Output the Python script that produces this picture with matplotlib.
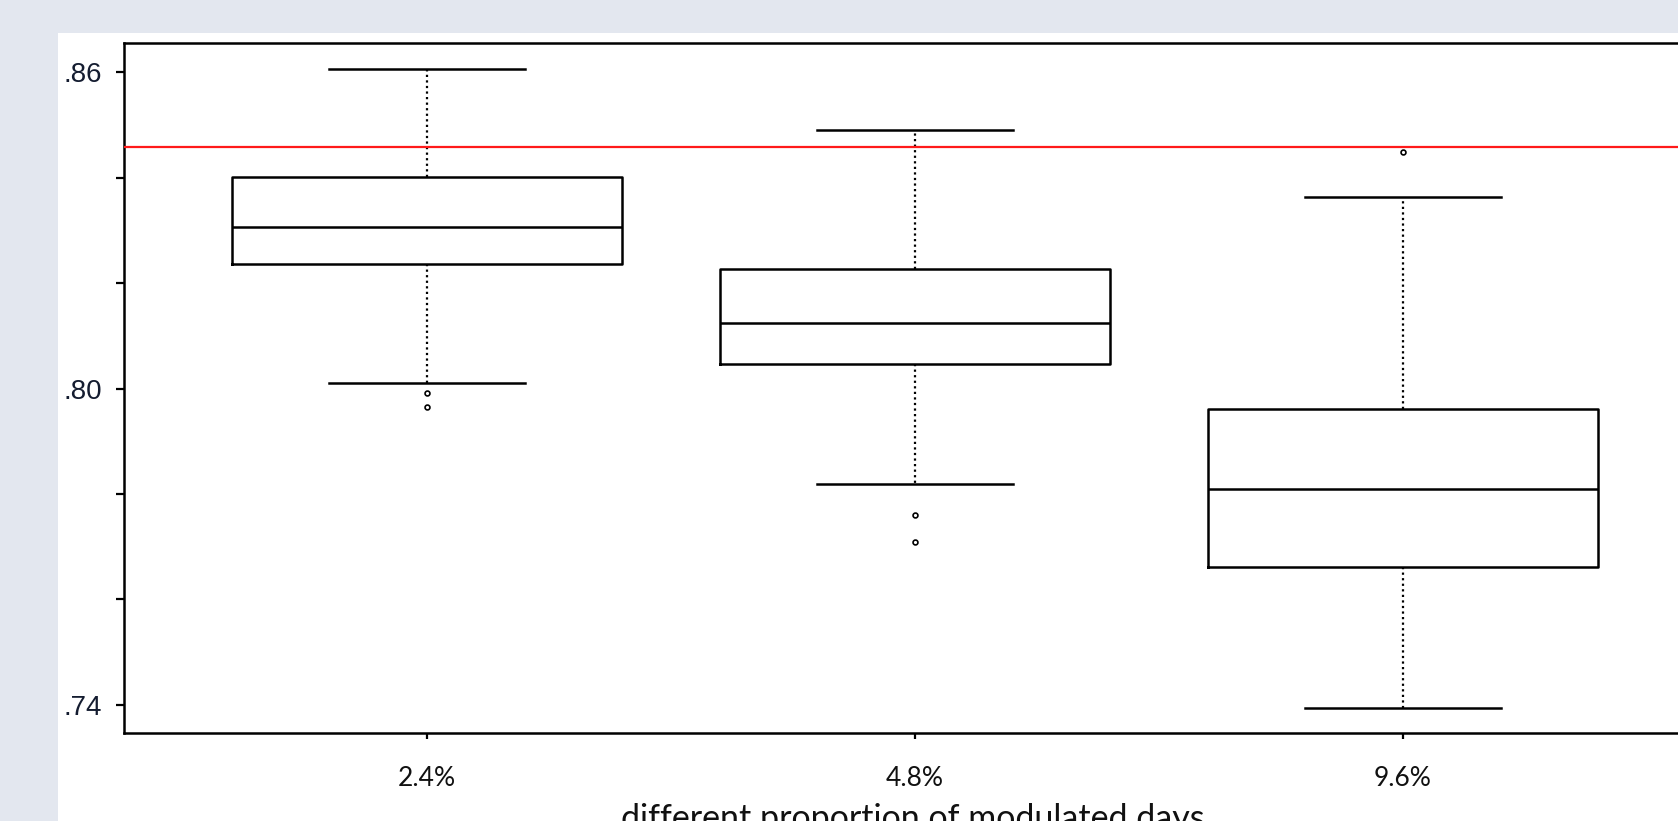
import matplotlib.pyplot as plt
from matplotlib.patches import Rectangle

# box statistics
labels = ['2.4%', '4.8%', '9.6%']
whislo = [0.8010, 0.7819, 0.7393]
q1 = [0.8236, 0.8046, 0.7662]
med = [0.8306, 0.8125, 0.7809]
q3 = [0.8402, 0.8227, 0.7962]
whishi = [0.8607, 0.8491, 0.8364]
fliers = [[0.7991, 0.7964], [0.7760, 0.7708], [0.8450]]
ref_value = 0.8459

yticks = [0.74, 0.76, 0.78, 0.80, 0.82, 0.84, 0.86]
ytick_labels = ['.74', '', '', '.80', '', '', '.86']

W, H = 1678, 821
fig = plt.figure(figsize=(W / 100, H / 100), dpi=100)
fig.patch.set_facecolor('#e3e7ef')

# white panel behind the plot
fig.patches.append(Rectangle((58 / W, 0), 1, (H - 33) / H, transform=fig.transFigure,
                             facecolor='white', edgecolor='none', zorder=-10))

ax = fig.add_axes([124 / W, 88 / H, (1706 - 124) / W, (733 - 43) / H])
ax.set_facecolor('white')

stats = []
for i in range(len(labels)):
    stats.append(dict(label=labels[i], whislo=whislo[i], q1=q1[i], med=med[i],
                      q3=q3[i], whishi=whishi[i], fliers=fliers[i]))

line = dict(color='black', linewidth=1.8)
ax.bxp(stats, positions=[1, 2, 3], widths=0.8, capwidths=0.4,
       boxprops=line, medianprops=line, capprops=line,
       whiskerprops=dict(color='black', linewidth=1.6, linestyle=(0, (1, 1.5))),
       flierprops=dict(marker='o', markersize=3.5, markerfacecolor='white',
                       markeredgecolor='black', markeredgewidth=1.2))

ax.axhline(ref_value, color='#ff1a1a', linewidth=1.6, zorder=5)

ax.set_xlim(0.379, 3.621)
ax.set_ylim(0.7346, 0.8656)
ax.set_yticks(yticks)
ax.set_yticklabels(ytick_labels, family='Liberation Sans', fontsize=20, color='#141c30')
ax.set_xticks([1, 2, 3])
ax.set_xticklabels(labels, family='Lato', fontsize=19, color='#111111')

ax.tick_params(axis='y', direction='out', length=5.5, width=1.6, pad=10)
ax.tick_params(axis='x', direction='out', length=4.5, width=1.6, pad=19)
for s in ax.spines.values():
    s.set_linewidth(1.8)

fig.text(913 / W, 1 - 803 / H, 'different proportion of modulated days',
         ha='center', va='top', family='Lato', fontsize=24.5, color='#111111')

fig.savefig('out.png', dpi=100, facecolor=fig.get_facecolor())
